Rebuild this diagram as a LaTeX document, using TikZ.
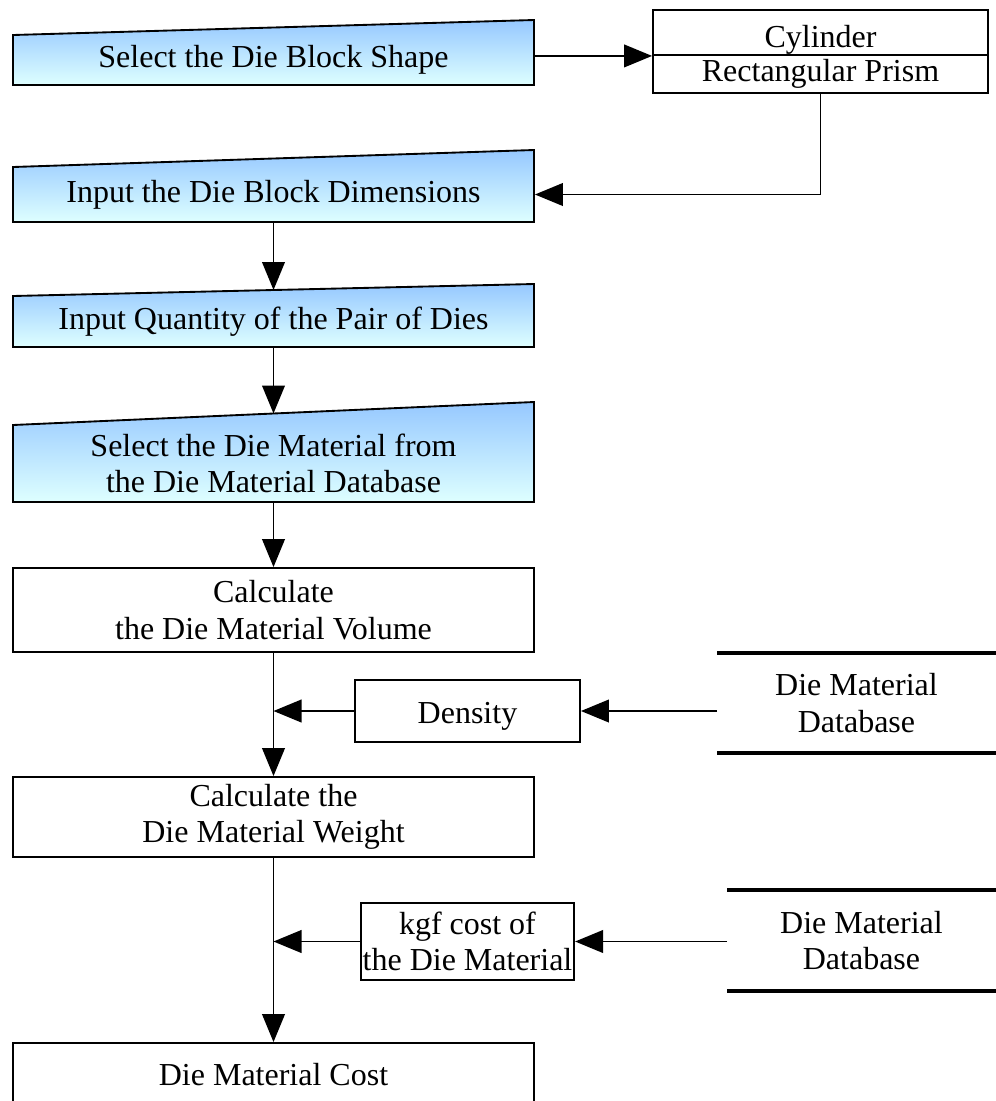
\documentclass[tikz,border=0pt]{standalone}
\usepackage{fontspec}
\setmainfont{Liberation Serif}
\usetikzlibrary{arrows.meta}
\definecolor{intop}{RGB}{150,200,255}
\definecolor{inbot}{RGB}{222,255,255}
\newcommand\dfont{\fontsize{24}{27.5}\selectfont}

\begin{document}
\begin{tikzpicture}[x=0.75pt,y=0.75pt,yscale=-1,xscale=1,
  line width=1.4pt,
  box/.style={draw,rectangle,inner sep=0pt,align=center,font=\dfont,minimum width=390.75pt},
  intext/.style={rectangle,inner sep=0pt,align=center,font=\dfont,minimum width=390.75pt},
  inshape/.style={draw,top color=intop,bottom color=inbot},
  dbtext/.style={rectangle,inner sep=0pt,align=center,font=\dfont},
  conn/.style={-{Triangle[length=21pt,width=17pt]}}]
\clip (0,0) rectangle (996,1101);

%Shape: Manual Input [id:selshape]
\shade[inshape] (13,85) -- (13,35) -- (534,20) -- (534,85) -- cycle;
% Text Node
\node[intext,minimum height=37.5pt] (selshape) at (273.5,60) {Select the Die Block Shape};

%Shape: Rectangle [id:cyl]
\node[box,minimum width=251.25pt,minimum height=33.75pt,text height=22pt,text depth=0pt] (cyl) at (820.5,32.5) {Cylinder};
\node[box,minimum width=251.25pt,minimum height=28.5pt] (prism) at (820.5,74) {Rectangular Prism};

%Shape: Manual Input [id:dimin]
\shade[inshape] (13,222) -- (13,167) -- (534,150) -- (534,222) -- cycle;
% Text Node
\node[intext,minimum height=41.25pt] (dimin) at (273.5,194.5) {Input the Die Block Dimensions};

%Shape: Manual Input [id:qtyin]
\shade[inshape] (13,347) -- (13,296) -- (534,284) -- (534,347) -- cycle;
\coordinate (qtytop) at (273.5,290);
% Text Node
\node[intext,minimum height=38.25pt] (qtyin) at (273.5,321.5) {Input Quantity of the Pair of Dies};

%Shape: Manual Input [id:matsel]
\shade[inshape] (13,502) -- (13,425) -- (534,402) -- (534,502) -- cycle;
\coordinate (matseltop) at (273.5,413.5);
% Text Node
\node[intext,minimum height=57.75pt] (matsel) at (273.5,463.5) {Select the Die Material from\\the Die Material Database};

%Shape: Rectangle [id:calcvol]
\node[box,minimum height=63pt] (calcvol) at (273.5,610) {Calculate\\the Die Material Volume};
%Shape: Rectangle [id:density]
\node[box,minimum width=168.75pt,minimum height=46.5pt,text height=20pt,text depth=2pt] (density) at (467.5,711) {Density};
% Text Node
\node[dbtext,minimum width=207.75pt,minimum height=73.5pt] (matdb) at (856.5,703) {Die Material\\Database};
\draw[line width=2.4pt] (matdb.north west) -- (matdb.north east);
\draw[line width=2.4pt] (matdb.south west) -- (matdb.south east);

%Shape: Rectangle [id:calcwt]
\node[box,minimum height=60pt] (calcwt) at (273.5,817) {Calculate the\\Die Material Weight};
%Shape: Rectangle [id:kgfcost]
\node[box,minimum width=160pt,minimum height=57.75pt] (kgfcost) at (467.5,941.5) {kgf cost of\\the Die Material};
% Text Node
\node[dbtext,minimum width=200.25pt,minimum height=74.25pt] (costdb) at (861.5,940.5) {Die Material\\Database};
\draw[line width=2.4pt] (costdb.north west) -- (costdb.north east);
\draw[line width=2.4pt] (costdb.south west) -- (costdb.south east);

%Shape: Rectangle [id:diecost]
\node[box,minimum height=48pt] (diecost) at (273.5,1075) {Die Material Cost};

% Connection
\draw[conn] (selshape.east |- cyl.south) -- (cyl.south west);
% Connection
\draw[conn] (prism.south) |- (dimin.east);
% Connection
\draw[conn] (dimin.south) -- (qtytop);
% Connection
\draw[conn] (qtyin.south) -- (matseltop);
% Connection
\draw[conn] (matsel.south) -- (calcvol.north);
% Connection
\draw[conn] (calcvol.south) -- (calcwt.north);
% Connection
\draw[conn] (density.west) -- (density.west -| calcvol.south);
% Connection
\draw[conn] (matdb.west |- density.east) -- (density.east);
% Connection
\draw[conn] (calcwt.south) -- (diecost.north);
% Connection
\draw[conn] (kgfcost.west) -- (kgfcost.west -| calcwt.south);
% Connection
\draw[conn] (costdb.west |- kgfcost.east) -- (kgfcost.east);

\end{tikzpicture}
\end{document}
